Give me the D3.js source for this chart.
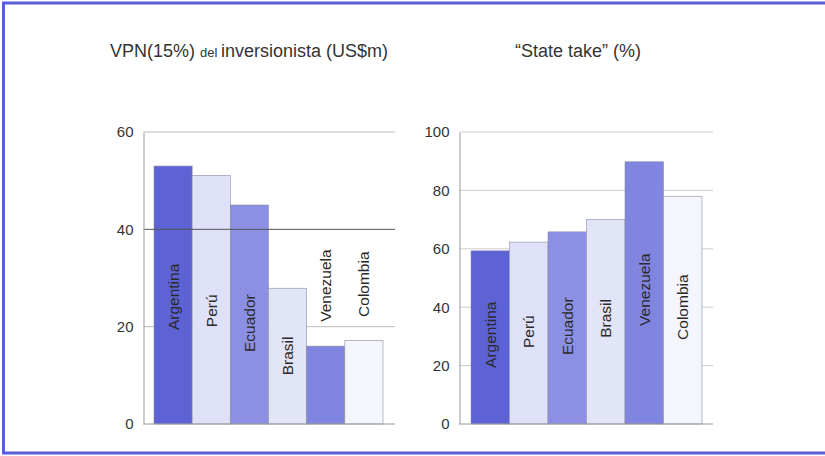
<!DOCTYPE html>
<html><head><meta charset="utf-8">
<script src="https://cdn.jsdelivr.net/npm/d3@7"></script>
<style>body{margin:0;background:#fff;}svg{display:block;font-family:"Liberation Sans",Arial,sans-serif;}</style>
</head><body>
<svg id="c" width="825" height="456"></svg>
<script>
const countries = ["Argentina","Perú","Ecuador","Brasil","Venezuela","Colombia"];
const vpnValues = [53, 51.1, 45, 27.9, 16, 17.2];
const stateTakeValues = [59.3, 62.3, 65.8, 70.1, 89.8, 78];
const vpnLabelAt = [19.3, 19.9, 14.8, 10, 21, 22];
const stateLabelAt = [19.2, 26, 23.6, 29.5, 33.6, 28.8];
const vpnTicks = [0, 20, 40, 60];
const stateTicks = [0, 20, 40, 60, 80, 100];
const barColors = ["#5d62d4","#dfe1f8","#8c90e4","#e2e4f8","#8085df","#f5f6fd"];

const svg = d3.select("#c");
// frame
svg.append("rect").attr("x",3.5).attr("y",3).attr("width",830).attr("height",450)
  .attr("fill","none").attr("stroke","#5a5ed6").attr("stroke-width",3);

// titles
const t1 = svg.append("text").attr("x",110).attr("y",57).attr("fill","#333").attr("font-size",18);
t1.append("tspan").text("VPN(15%) ");
t1.append("tspan").attr("font-size",13).text("del ");
t1.append("tspan").text("inversionista (US$m)");
svg.append("text").attr("x",515).attr("y",57).attr("fill","#333").attr("font-size",18).text("“State take” (%)");

function panel(opts){
  const {x0, x1, barX0, barX1, values, labelAt, ticks, maxV, darkLine, lightGrid} = opts;
  const y = d3.scaleLinear().domain([0,maxV]).range([424,132]);
  const x = d3.scaleBand().domain(countries).range([barX0, barX1]).padding(0);
  const g = svg.append("g");
  ticks.filter(t=>t>0 && t!==darkLine).forEach(t=>{
    g.append("line").attr("x1",x0).attr("x2",x1).attr("y1",y(t)).attr("y2",y(t))
      .attr("stroke",lightGrid).attr("stroke-width",1);
  });
  g.selectAll("rect.bar").data(values).enter().append("rect")
    .attr("x",(d,i)=>x(countries[i])).attr("width",x.bandwidth())
    .attr("y",d=>y(d)).attr("height",d=>y(0)-y(d))
    .attr("fill",(d,i)=>barColors[i]).attr("stroke","#8b8ca8").attr("stroke-width",0.6);
  if(darkLine!==null){
    g.append("line").attr("x1",x0).attr("x2",x1).attr("y1",y(darkLine)).attr("y2",y(darkLine))
      .attr("stroke","#555").attr("stroke-width",1);
  }
  g.selectAll("text.lab").data(countries).enter().append("text")
    .attr("transform",(d,i)=>`translate(${x(d)+x.bandwidth()/2+5.5},${y(labelAt[i])}) rotate(-90)`)
    .attr("fill","#2a2a2a").attr("font-size",15.5).text(d=>d);
  const ax = d3.axisLeft(y).tickValues(ticks).tickSize(0).tickPadding(10);
  const ag = g.append("g").attr("transform",`translate(${x0},0)`).call(ax);
  ag.select(".domain").attr("stroke","#999");
  ag.selectAll("text").attr("font-size",15).attr("fill","#333").attr("font-family","Liberation Sans, Arial, sans-serif");
  g.append("line").attr("x1",x0).attr("x2",x1).attr("y1",y(0)).attr("y2",y(0)).attr("stroke","#999");
  return y;
}

panel({x0:143.5, x1:395, barX0:154, barX1:383, values:vpnValues, labelAt:vpnLabelAt, ticks:vpnTicks, maxV:60, darkLine:40, lightGrid:"#bbb"});
panel({x0:459.5, x1:713, barX0:471, barX1:702, values:stateTakeValues, labelAt:stateLabelAt, ticks:stateTicks, maxV:100, darkLine:null, lightGrid:"#ccc"});
</script>
</body></html>
